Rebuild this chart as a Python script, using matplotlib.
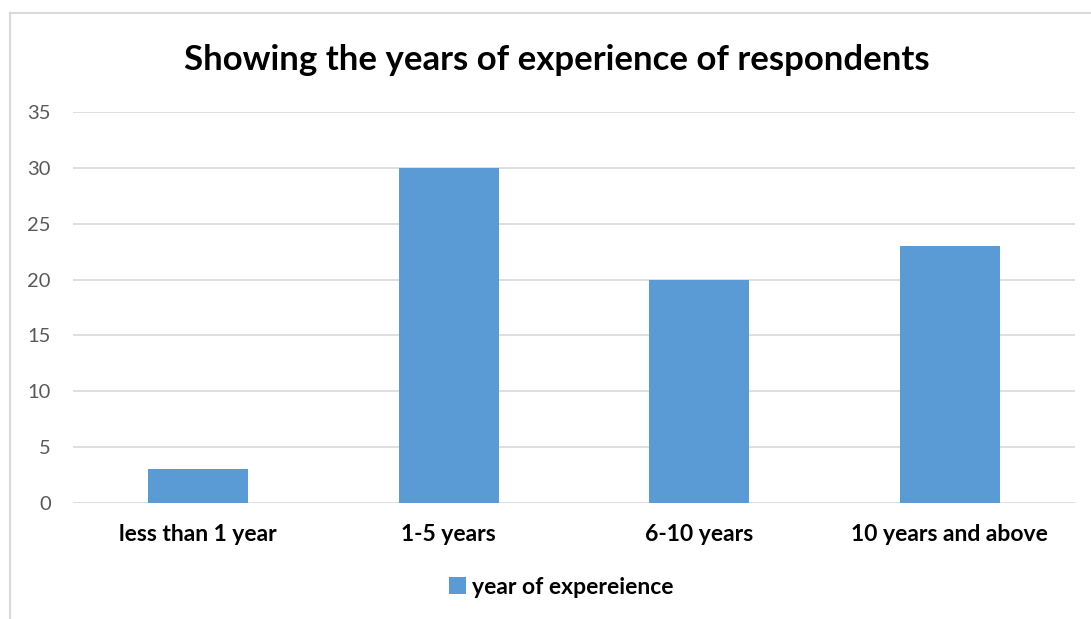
import matplotlib
matplotlib.use("Agg")
import matplotlib.pyplot as plt
from matplotlib.lines import Line2D
from matplotlib.patches import Patch

categories = ["less than 1 year", "1-5 years", "6-10 years", "10 years and above"]
values = [3, 30, 20, 23]
series_name = "year of expereience"
yticks = [0, 5, 10, 15, 20, 25, 30, 35]
title = "Showing the years of experience of respondents"

plt.rcParams['font.family'] = ['Lato', 'DejaVu Sans']

W, H = 1091, 619
fig = plt.figure(figsize=(W / 100, H / 100), dpi=100)
ax = fig.add_axes([73 / W, 1 - 503 / H, (1075 - 73) / W, (503 - 112) / H])

bar_color = "#5B9BD5"
x = list(range(len(categories)))
ax.bar(x, values, width=0.4, color=bar_color, zorder=3)
ax.set_xlim(-0.5, len(categories) - 0.5)
ax.set_ylim(0, 35)
ax.set_yticks(yticks)
ax.set_yticklabels([str(t) for t in yticks], fontsize=14.5, color="#595959")
ax.set_xticks(x)
ax.set_xticklabels(categories, fontsize=16.5, fontweight="bold", color="black")
ax.tick_params(axis="both", length=0)
ax.tick_params(axis="y", pad=16)
ax.tick_params(axis="x", pad=15)
ax.grid(axis="y", color="#D9D9D9", linewidth=1.2, zorder=0)
for s in ax.spines.values():
    s.set_visible(False)

fig.text(557 / W, 1 - 60 / H, title, ha="center", va="center",
         fontsize=25, fontweight="bold", color="black")

handles = [Patch(facecolor=bar_color, edgecolor="none", label=series_name)]
leg = fig.legend(handles=handles, loc="center", bbox_to_anchor=(561 / W, 1 - 587 / H),
                 frameon=False, prop={"size": 16.5, "weight": "bold"},
                 handlelength=0.75, handleheight=0.75, handletextpad=0.25)

# chart border (top and left visible)
fig.add_artist(Line2D([9.5 / W, 9.5 / W], [0, 1 - 12.5 / H], color="#D9D9D9", lw=1.5,
                      transform=fig.transFigure))
fig.add_artist(Line2D([9.5 / W, 1], [1 - 12.5 / H, 1 - 12.5 / H], color="#D9D9D9", lw=1.5,
                      transform=fig.transFigure))

fig.savefig("out.png", dpi=100)
